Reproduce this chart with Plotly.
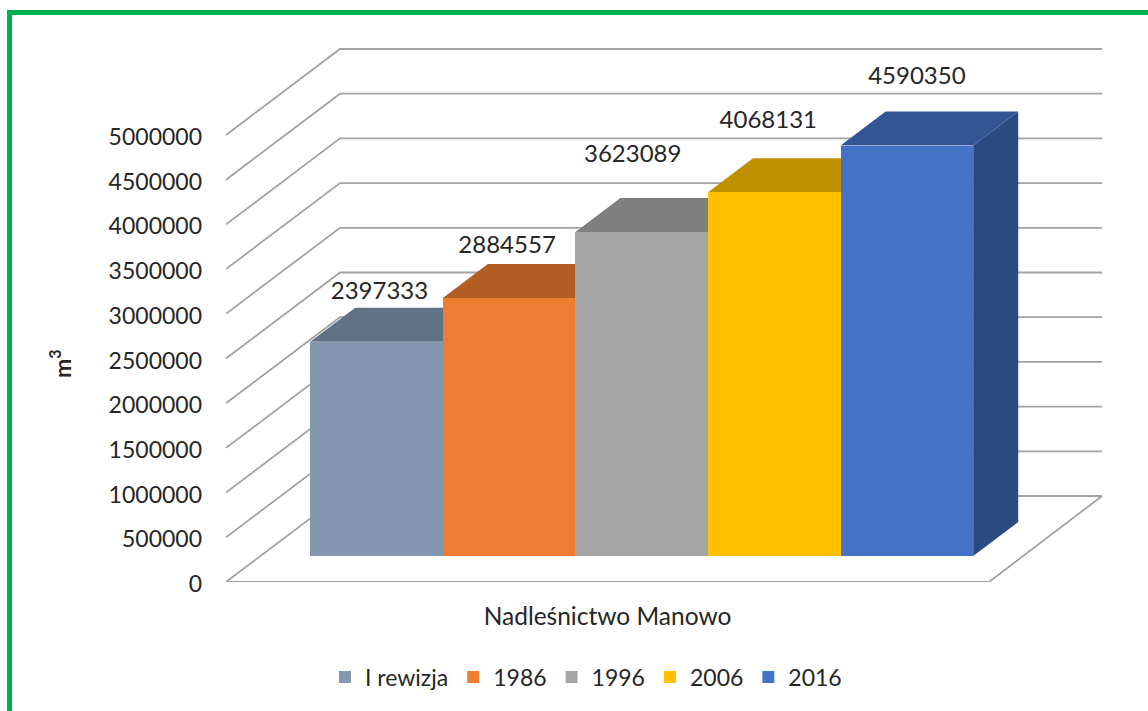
import plotly.graph_objects as go

# ---- data
categories = ["Nadleśnictwo Manowo"]
series_names = ["I rewizja", "1986", "1996", "2006", "2016"]
series_values = [2397333, 2884557, 3623089, 4068131, 4590350]
tick_values = [0, 500000, 1000000, 1500000, 2000000, 2500000, 3000000, 3500000, 4000000, 4500000, 5000000]

# ---- styles
front_colors = ["#8497B0", "#ED7D31", "#A5A5A5", "#FFC000", "#4472C4"]
top_colors = ["#627286", "#B35E22", "#7F7F7F", "#BF9000", "#335593"]
side_colors = ["#56657A", "#9E521E", "#6F6F6F", "#A67D00", "#2A4A80"]
label_nudge_x = [3, -2, -9, -6, 10]      # px
label_nudge_y = [49, 51, 76, 70, 68]     # px above the front face
GRID = "#A3A3A3"
TEXT = "#262626"
FONT = "Lato"

# ---- geometry (chart frame, px)
W, H = 1148, 711
L, R, T, B = 226, 1102, 48, 582          # plot area
PX_PER_UNIT = (B - 135) / 5000000
BAR_W = 132.6
BAR_X0 = 310.2
FLOOR_RIGHT = 989
WALL_DX, WALL_DY = 114, 86
BAR_DX, BAR_DY = 45, 34
BASE_LIFT = 26

xpx = lambda p: (p - BAR_X0) / BAR_W
xr = [xpx(L), xpx(R)]
ytop = (B - T) / PX_PER_UNIT
base = BASE_LIFT / PX_PER_UNIT
wall_dy = WALL_DY / PX_PER_UNIT
bar_dy = BAR_DY / PX_PER_UNIT
wdx, bdx = WALL_DX / BAR_W, BAR_DX / BAR_W

fig = go.Figure()

# walls and floor
for v in tick_values:
    fig.add_trace(go.Scatter(
        x=[xr[0], xr[0] + wdx, xr[1]], y=[v, v + wall_dy, v + wall_dy],
        mode="lines", line=dict(color=GRID, width=1.8), cliponaxis=False,
        showlegend=False, hoverinfo="skip"))
fig.add_trace(go.Scatter(
    x=[xr[0], xpx(FLOOR_RIGHT), xr[1]], y=[0, 0, wall_dy],
    mode="lines", line=dict(color=GRID, width=1.8), cliponaxis=False,
    showlegend=False, hoverinfo="skip"))

# top and side faces
for i, v in enumerate(series_values):
    l, r = float(i), float(i + 1)
    fig.add_trace(go.Scatter(
        x=[r, r + bdx, r + bdx, r, r],
        y=[base, base + bar_dy, base + v + bar_dy, base + v, base],
        mode="lines", fill="toself", fillcolor=side_colors[i], line=dict(width=0),
        showlegend=False, hoverinfo="skip"))
    fig.add_trace(go.Scatter(
        x=[l, l + bdx, r + bdx, r, l],
        y=[base + v, base + v + bar_dy, base + v + bar_dy, base + v, base + v],
        mode="lines", fill="toself", fillcolor=top_colors[i], line=dict(width=0),
        showlegend=False, hoverinfo="skip"))

# front faces
for i, (n, v) in enumerate(zip(series_names, series_values)):
    fig.add_trace(go.Bar(
        x=[i + 0.5], y=[v], width=[1], name=n, xaxis="x2", yaxis="y2",
        marker=dict(color=front_colors[i], line=dict(width=0))))

# data labels
fig.add_trace(go.Scatter(
    x=[i + 0.5 + label_nudge_x[i] / BAR_W for i in range(len(series_values))],
    y=[v + label_nudge_y[i] / PX_PER_UNIT for i, v in enumerate(series_values)],
    text=[str(v) for v in series_values], mode="text", textposition="middle center",
    textfont=dict(family=FONT, size=24, color=TEXT), cliponaxis=False,
    xaxis="x2", yaxis="y2", showlegend=False, hoverinfo="skip"))

fig.update_layout(
    width=W, height=H, autosize=False,
    margin=dict(l=L, r=W - R, t=T, b=H - B, pad=0),
    paper_bgcolor="white", plot_bgcolor="white",
    font=dict(family=FONT, size=23, color=TEXT),
    barmode="overlay", bargap=0,
    xaxis=dict(range=xr, showgrid=False, zeroline=False, showline=False,
               tickmode="array", tickvals=[xpx((L + FLOOR_RIGHT) / 2)], ticktext=categories,
               tickfont=dict(family=FONT, size=24.5, color=TEXT),
               ticks="", ticklabelstandoff=17),
    yaxis=dict(range=[0, ytop], showgrid=False, zeroline=False, showline=False,
               tickmode="array", tickvals=tick_values, ticktext=[str(t) for t in tick_values],
               ticks="", ticklabelstandoff=23, ticklabelshift=2),
    xaxis2=dict(range=xr, overlaying="x", visible=False),
    yaxis2=dict(range=[-base, ytop - base], overlaying="y", visible=False),
    legend=dict(orientation="h", x=(325 - L) / (R - L), xanchor="left",
                y=(B - 677) / (B - T), yanchor="middle",
                font=dict(family=FONT, size=23, color=TEXT), traceorder="normal",
                bgcolor="rgba(0,0,0,0)"),
    annotations=[dict(text="<b>m<sup>3</sup></b>", textangle=-90,
                      xref="paper", yref="paper", showarrow=False,
                      x=(60 - L) / (R - L), y=(B - 364) / (B - T),
                      xanchor="center", yanchor="middle",
                      font=dict(family=FONT, size=23, color=TEXT))],
    shapes=[
        dict(type="line", xref="paper", yref="paper", line=dict(color="#00B050", width=5),
             x0=(7 - L) / (R - L), x1=(W - L) / (R - L),
             y0=(B - 12.5) / (B - T), y1=(B - 12.5) / (B - T)),
        dict(type="line", xref="paper", yref="paper", line=dict(color="#00B050", width=5),
             x0=(9.5 - L) / (R - L), x1=(9.5 - L) / (R - L),
             y0=(B - 10) / (B - T), y1=(B - H) / (B - T)),
    ],
)

# page margin removed so the 1148x711 figure fills the window exactly
fig.write_html("out.html", config={"displayModeBar": False},
               post_script="document.body.style.margin='0';")
